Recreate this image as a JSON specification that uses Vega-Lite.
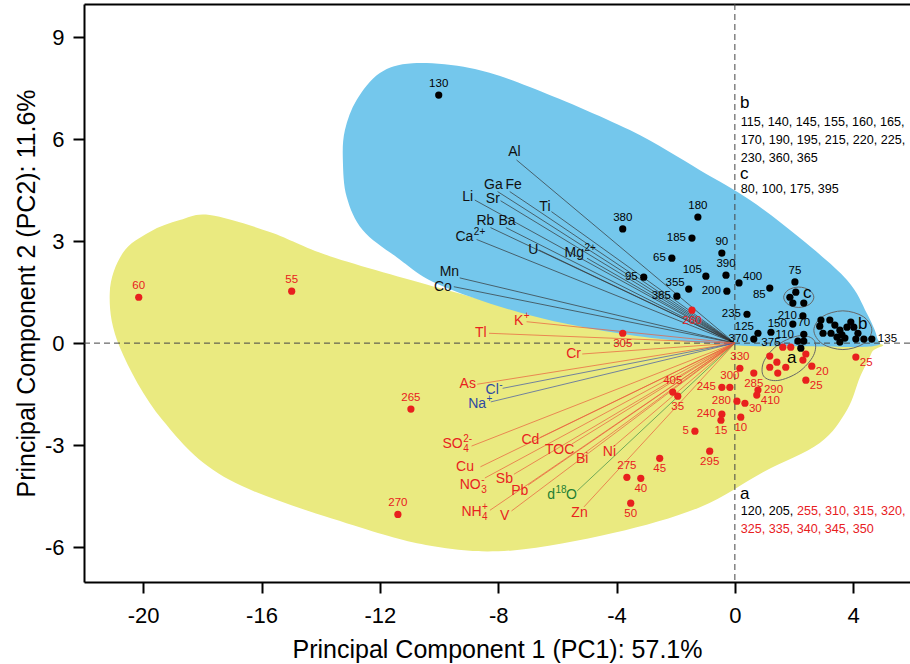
{
"$schema":"https://vega.github.io/schema/vega-lite/v6.json",
"width":826,"height":578,"autosize":"none",
"padding":{"left":84,"top":4,"right":0,"bottom":82},
"config":{"view":{"stroke":null},"font":"Liberation Sans"},
"resolve":{"scale":{"color":"independent"},"axis":{"x":"independent","y":"independent"}},
"datasets":{
"shapes":[
{"s":"Y","i":1,"x":-20.69,"y":2.65},{"s":"Y","i":2,"x":-19.78,"y":3.27},{"s":"Y","i":3,"x":-18.76,"y":3.62},{"s":"Y","i":4,"x":-17.75,"y":3.77},{"s":"Y","i":5,"x":-15.72,"y":3.27},{"s":"Y","i":6,"x":-13.69,"y":2.56},{"s":"Y","i":7,"x":-9.97,"y":1.62},{"s":"Y","i":8,"x":-6.93,"y":0.91},{"s":"Y","i":9,"x":-3.55,"y":0.38},{"s":"Y","i":10,"x":0,"y":0.15},{"s":"Y","i":11,"x":4.67,"y":0.0},{"s":"Y","i":12,"x":4.63,"y":-0.27},{"s":"Y","i":13,"x":4.23,"y":-1.0},{"s":"Y","i":14,"x":3.79,"y":-1.97},{"s":"Y","i":15,"x":2.87,"y":-2.94},{"s":"Y","i":16,"x":0.95,"y":-3.8},{"s":"Y","i":17,"x":-1.18,"y":-4.83},{"s":"Y","i":18,"x":-4.12,"y":-5.59},{"s":"Y","i":19,"x":-7.51,"y":-6.1},{"s":"Y","i":20,"x":-9.97,"y":-6.01},{"s":"Y","i":21,"x":-12.68,"y":-5.42},{"s":"Y","i":22,"x":-17.07,"y":-4.03},{"s":"Y","i":23,"x":-19.34,"y":-2.27},{"s":"Y","i":24,"x":-20.79,"y":-0.12},{"s":"Y","i":25,"x":-21.13,"y":1.47},
{"s":"B","i":1,"x":-10.89,"y":8.24},{"s":"B","i":2,"x":-8.96,"y":8.1},{"s":"B","i":3,"x":-6.93,"y":7.54},{"s":"B","i":4,"x":-3.55,"y":6.27},{"s":"B","i":5,"x":-1.18,"y":5.09},{"s":"B","i":6,"x":0.51,"y":4.21},{"s":"B","i":7,"x":2.2,"y":3.09},{"s":"B","i":8,"x":3.79,"y":1.86},{"s":"B","i":9,"x":4.46,"y":0.88},{"s":"B","i":10,"x":4.8,"y":0.18},{"s":"B","i":11,"x":4.67,"y":-0.09},{"s":"B","i":12,"x":2.2,"y":-0.09},{"s":"B","i":13,"x":0,"y":-0.06},{"s":"B","i":14,"x":-3.55,"y":0.24},{"s":"B","i":15,"x":-6.93,"y":0.82},{"s":"B","i":16,"x":-9.97,"y":1.71},{"s":"B","i":17,"x":-11.43,"y":2.53},{"s":"B","i":18,"x":-12.58,"y":3.33},{"s":"B","i":19,"x":-13.12,"y":4.3},{"s":"B","i":20,"x":-13.25,"y":5.39},{"s":"B","i":21,"x":-13.18,"y":6.27},{"s":"B","i":22,"x":-12.78,"y":7.16},{"s":"B","i":23,"x":-12.0,"y":7.95}
],
"ell":[
{"e":"c","i":1,"x":2.67,"y":1.35},{"e":"c","i":2,"x":2.52,"y":1.56},{"e":"c","i":3,"x":2.16,"y":1.65},{"e":"c","i":4,"x":1.8,"y":1.56},{"e":"c","i":5,"x":1.65,"y":1.35},{"e":"c","i":6,"x":1.8,"y":1.14},{"e":"c","i":7,"x":2.16,"y":1.05},{"e":"c","i":8,"x":2.52,"y":1.14},
{"e":"b","i":1,"x":4.63,"y":0.38},{"e":"b","i":2,"x":4.34,"y":0.78},{"e":"b","i":3,"x":3.65,"y":0.95},{"e":"b","i":4,"x":2.96,"y":0.78},{"e":"b","i":5,"x":2.67,"y":0.38},{"e":"b","i":6,"x":2.96,"y":-0.02},{"e":"b","i":7,"x":3.65,"y":-0.19},{"e":"b","i":8,"x":4.34,"y":-0.02},
{"e":"a","i":1,"x":2.68,"y":0.08},{"e":"a","i":2,"x":2.66,"y":-0.36},{"e":"a","i":3,"x":2.16,"y":-0.85},{"e":"a","i":4,"x":1.45,"y":-1.1},{"e":"a","i":5,"x":0.97,"y":-0.97},{"e":"a","i":6,"x":0.99,"y":-0.52},{"e":"a","i":7,"x":1.49,"y":-0.03},{"e":"a","i":8,"x":2.2,"y":0.22}
],
"load":[
{"v":"Al","c":"k","x":-7.38,"y":5.39},
{"v":"Fe","c":"k","x":-7.61,"y":4.46},
{"v":"Ga","c":"k","x":-8.02,"y":4.46},
{"v":"Sr","c":"k","x":-7.92,"y":4.19},
{"v":"Li","c":"k","x":-8.79,"y":4.21},
{"v":"Ti","c":"k","x":-6.2,"y":3.87},
{"v":"Rb","c":"k","x":-8.26,"y":3.4},
{"v":"Ba","c":"k","x":-7.74,"y":3.4},
{"v":"Ca2+","c":"k","x":-8.73,"y":3.05},
{"v":"U","c":"k","x":-6.62,"y":2.74},
{"v":"Mg2+","c":"k","x":-5.0,"y":2.5},
{"v":"Mn","c":"k","x":-9.3,"y":1.92},
{"v":"Co","c":"k","x":-9.5,"y":1.66},
{"v":"K+","c":"r","x":-7.04,"y":0.63},
{"v":"Tl","c":"r","x":-8.31,"y":0.29},
{"v":"Cr","c":"r","x":-5.16,"y":-0.32},
{"v":"As","c":"r","x":-8.71,"y":-1.21},
{"v":"Cl-","c":"b","x":-7.85,"y":-1.33},
{"v":"Na+","c":"b","x":-8.25,"y":-1.73},
{"v":"SO42-","c":"r","x":-8.9,"y":-3.03},
{"v":"Cd","c":"r","x":-6.59,"y":-2.78},
{"v":"Cu","c":"r","x":-8.6,"y":-3.64},
{"v":"TOC","c":"r","x":-5.51,"y":-2.97},
{"v":"NO3-","c":"r","x":-8.45,"y":-3.97},
{"v":"Sb","c":"r","x":-7.47,"y":-3.86},
{"v":"Bi","c":"r","x":-5.1,"y":-3.25},
{"v":"Ni","c":"r","x":-4.11,"y":-3.05},
{"v":"Pb","c":"r","x":-6.99,"y":-4.18},
{"v":"NH4+","c":"r","x":-8.28,"y":-4.92},
{"v":"V","c":"r","x":-7.55,"y":-4.94},
{"v":"d18O","c":"g","x":-5.33,"y":-4.35},
{"v":"Zn","c":"r","x":-5.1,"y":-4.82}
],
"labs":[
{"t":"Al","k":"p","c":"k","x":-7.45,"y":5.61},
{"t":"Fe","k":"p","c":"k","x":-7.48,"y":4.64},
{"t":"Ga","k":"p","c":"k","x":-8.16,"y":4.64},
{"t":"Sr","k":"p","c":"k","x":-8.18,"y":4.23},
{"t":"Li","k":"p","c":"k","x":-9.03,"y":4.3},
{"t":"Ti","k":"p","c":"k","x":-6.42,"y":4.0},
{"t":"Rb","k":"p","c":"k","x":-8.43,"y":3.58},
{"t":"Ba","k":"p","c":"k","x":-7.7,"y":3.58},
{"t":"Ca","k":"m","c":"k","x":-8.84,"y":3.12,"sup":"2+"},
{"t":"U","k":"p","c":"k","x":-6.81,"y":2.75},
{"t":"Mg","k":"m","c":"k","x":-5.1,"y":2.65,"sup":"2+"},
{"t":"Mn","k":"p","c":"k","x":-9.65,"y":2.08},
{"t":"Co","k":"p","c":"k","x":-9.87,"y":1.66},
{"t":"K","k":"m","c":"r","x":-7.15,"y":0.65,"sup":"+"},
{"t":"Tl","k":"p","c":"r","x":-8.59,"y":0.31},
{"t":"Cr","k":"p","c":"r","x":-5.45,"y":-0.32},
{"t":"As","k":"p","c":"r","x":-9.03,"y":-1.19},
{"t":"Cl","k":"m","c":"b","x":-7.98,"y":-1.38,"sup":"-"},
{"t":"Na","k":"m","c":"b","x":-8.41,"y":-1.78,"sup":"+"},
{"t":"SO","k":"m","c":"r","x":-9.2,"y":-2.97,"sup":"2-","sub":"4"},
{"t":"Cd","k":"p","c":"r","x":-6.91,"y":-2.84},
{"t":"Cu","k":"p","c":"r","x":-9.12,"y":-3.65},
{"t":"TOC","k":"p","c":"r","x":-5.92,"y":-3.15},
{"t":"NO","k":"m","c":"r","x":-8.59,"y":-4.18,"sup":"-","sub":"3"},
{"t":"Sb","k":"p","c":"r","x":-7.79,"y":-4.0},
{"t":"Bi","k":"p","c":"r","x":-5.16,"y":-3.42},
{"t":"Ni","k":"p","c":"r","x":-4.24,"y":-3.21},
{"t":"Pb","k":"p","c":"r","x":-7.27,"y":-4.36},
{"t":"NH","k":"m","c":"r","x":-8.56,"y":-4.98,"sup":"+","sub":"4"},
{"t":"V","k":"p","c":"r","x":-7.78,"y":-5.08},
{"t":"d","k":"m","c":"g","x":-6.08,"y":-4.48,"sup":"18"},
{"t":"O","k":"L","c":"g","x":-5.71,"y":-4.48},
{"t":"Zn","k":"p","c":"r","x":-5.25,"y":-5.01}
],
"pts":[
{"id":"130","g":"k","x":-10.01,"y":7.3,"pos":"above"},
{"id":"380","g":"k","x":-3.79,"y":3.36,"pos":"above"},
{"id":"180","g":"k","x":-1.25,"y":3.71,"pos":"above"},
{"id":"185","g":"k","x":-1.45,"y":3.09,"pos":"left"},
{"id":"90","g":"k","x":-0.44,"y":2.65,"pos":"above"},
{"id":"65","g":"k","x":-2.13,"y":2.5,"pos":"left"},
{"id":"95","g":"k","x":-3.08,"y":1.94,"pos":"left"},
{"id":"105","g":"k","x":-0.98,"y":1.97,"pos":"leftup"},
{"id":"390","g":"k","x":-0.3,"y":2.0,"pos":"above"},
{"id":"400","g":"k","x":0.14,"y":1.77,"pos":"rightup"},
{"id":"355","g":"k","x":-1.56,"y":1.59,"pos":"leftup"},
{"id":"200","g":"k","x":-0.27,"y":1.53,"pos":"left"},
{"id":"385","g":"k","x":-1.96,"y":1.38,"pos":"left"},
{"id":"235","g":"k","x":0.41,"y":0.85,"pos":"left"},
{"id":"125","g":"k","x":0.78,"y":0.29,"pos":"leftup"},
{"id":"370","g":"k","x":0.64,"y":0.12,"pos":"left"},
{"id":"375","g":"k","x":1.22,"y":0.32,"pos":"below"},
{"id":"75","g":"k","x":2.03,"y":1.8,"pos":"above"},
{"id":"85","g":"k","x":1.18,"y":1.62,"pos":"leftdown"},
{"id":"210","g":"k","x":2.3,"y":0.8,"pos":"left"},
{"id":"150","g":"k","x":1.96,"y":0.56,"pos":"left"},
{"id":"70","g":"k","x":2.33,"y":0.26,"pos":"above"},
{"id":"110","g":"k","x":2.13,"y":0.06,"pos":"leftup"},
{"id":"","g":"k","x":2.33,"y":0.06,"pos":"none"},
{"id":"","g":"k","x":2.23,"y":-0.15,"pos":"none"},
{"id":"","g":"k","x":2.06,"y":1.5,"pos":"none"},
{"id":"","g":"k","x":1.86,"y":1.35,"pos":"none"},
{"id":"","g":"k","x":1.96,"y":1.18,"pos":"none"},
{"id":"","g":"k","x":2.33,"y":1.18,"pos":"none"},
{"id":"","g":"k","x":2.91,"y":0.68,"pos":"none"},
{"id":"","g":"k","x":3.21,"y":0.68,"pos":"none"},
{"id":"","g":"k","x":2.87,"y":0.5,"pos":"none"},
{"id":"","g":"k","x":3.38,"y":0.53,"pos":"none"},
{"id":"","g":"k","x":3.92,"y":0.62,"pos":"none"},
{"id":"","g":"k","x":3.55,"y":0.38,"pos":"none"},
{"id":"","g":"k","x":3.79,"y":0.47,"pos":"none"},
{"id":"","g":"k","x":4.02,"y":0.47,"pos":"none"},
{"id":"","g":"k","x":2.98,"y":0.29,"pos":"none"},
{"id":"","g":"k","x":3.25,"y":0.29,"pos":"none"},
{"id":"","g":"k","x":3.45,"y":0.18,"pos":"none"},
{"id":"","g":"k","x":3.62,"y":0.24,"pos":"none"},
{"id":"","g":"k","x":3.72,"y":0.15,"pos":"none"},
{"id":"","g":"k","x":4.16,"y":0.29,"pos":"none"},
{"id":"","g":"k","x":3.55,"y":0.03,"pos":"none"},
{"id":"","g":"k","x":4.09,"y":0.12,"pos":"none"},
{"id":"","g":"k","x":4.36,"y":0.12,"pos":"none"},
{"id":"135","g":"k","x":4.63,"y":0.12,"pos":"right"},
{"id":"260","g":"r","x":-1.45,"y":0.97,"pos":"below"},
{"id":"305","g":"r","x":-3.79,"y":0.29,"pos":"below"},
{"id":"","g":"r","x":1.62,"y":-0.12,"pos":"none"},
{"id":"","g":"r","x":1.89,"y":-0.12,"pos":"none"},
{"id":"","g":"r","x":1.18,"y":-0.38,"pos":"none"},
{"id":"","g":"r","x":1.42,"y":-0.56,"pos":"none"},
{"id":"","g":"r","x":1.18,"y":-0.71,"pos":"none"},
{"id":"","g":"r","x":1.45,"y":-0.88,"pos":"none"},
{"id":"","g":"r","x":1.72,"y":-0.71,"pos":"none"},
{"id":"","g":"r","x":2.4,"y":-0.32,"pos":"none"},
{"id":"","g":"r","x":2.3,"y":-0.5,"pos":"none"},
{"id":"20","g":"r","x":2.6,"y":-0.68,"pos":"rightdown"},
{"id":"25","g":"r","x":4.09,"y":-0.41,"pos":"rightdown"},
{"id":"25","g":"r","x":2.4,"y":-1.09,"pos":"rightdown"},
{"id":"330","g":"r","x":0.17,"y":-0.74,"pos":"above"},
{"id":"300","g":"r","x":-0.17,"y":-1.3,"pos":"above"},
{"id":"245","g":"r","x":-0.44,"y":-1.3,"pos":"left"},
{"id":"285","g":"r","x":0.64,"y":-0.88,"pos":"below"},
{"id":"290","g":"r","x":0.78,"y":-1.38,"pos":"right"},
{"id":"410","g":"r","x":0.74,"y":-1.53,"pos":"rightdown"},
{"id":"280","g":"r","x":0.07,"y":-1.71,"pos":"left"},
{"id":"30","g":"r","x":0.34,"y":-1.77,"pos":"rightdown"},
{"id":"240","g":"r","x":-0.44,"y":-2.09,"pos":"left"},
{"id":"15","g":"r","x":-0.47,"y":-2.27,"pos":"below"},
{"id":"10","g":"r","x":0.2,"y":-2.18,"pos":"below"},
{"id":"405","g":"r","x":-2.1,"y":-1.44,"pos":"above"},
{"id":"35","g":"r","x":-1.93,"y":-1.56,"pos":"below"},
{"id":"5","g":"r","x":-1.35,"y":-2.59,"pos":"left"},
{"id":"295","g":"r","x":-0.85,"y":-3.18,"pos":"below"},
{"id":"45","g":"r","x":-2.54,"y":-3.39,"pos":"below"},
{"id":"275","g":"r","x":-3.65,"y":-3.95,"pos":"above"},
{"id":"40","g":"r","x":-3.18,"y":-3.98,"pos":"below"},
{"id":"50","g":"r","x":-3.52,"y":-4.71,"pos":"below"},
{"id":"265","g":"r","x":-10.95,"y":-1.94,"pos":"above"},
{"id":"270","g":"r","x":-11.39,"y":-5.04,"pos":"above"},
{"id":"60","g":"r","x":-20.15,"y":1.35,"pos":"above"},
{"id":"55","g":"r","x":-14.98,"y":1.53,"pos":"above"}
],
"heads":[
{"t":"b","x":0.17,"y":7.07},{"t":"c","x":0.17,"y":4.98},{"t":"a","x":0.17,"y":-4.45},
{"t":"c","x":2.3,"y":1.47},{"t":"b","x":4.16,"y":0.56},{"t":"a","x":1.76,"y":-0.44}
],
"lists":[
{"t":"115, 140, 145, 155, 160, 165,","k":"k","x":0.2,"y":6.5},
{"t":"170, 190, 195, 215, 220, 225,","k":"k","x":0.2,"y":5.98},
{"t":"230, 360, 365","k":"k","x":0.2,"y":5.46},
{"t":"80, 100, 175, 395","k":"k","x":0.2,"y":4.55},
{"t":"120, 205,","k":"k","x":0.2,"y":-4.95},
{"t":"255, 310, 315, 320,","k":"r","x":2.1,"y":-4.95},
{"t":"325, 335, 340, 345, 350","k":"r","x":0.2,"y":-5.48}
]
},
"layer":[
{"data":{"name":"shapes"},"transform":[{"filter":"datum.s==='Y'"}],
 "mark":{"type":"line","interpolate":"cardinal-closed","fill":"#EAEA80","strokeWidth":0},
 "encoding":{
  "x":{"field":"x","type":"quantitative","scale":{"domain":[-22,5.92],"nice":false,"zero":false},
   "axis":{"orient":"bottom","values":[-20,-16,-12,-8,-4,0,4],"labelExpr":"'' + datum.value","grid":false,"title":"Principal Component 1 (PC1): 57.1%","domainColor":"#000","domainWidth":2,"tickColor":"#000","tickWidth":2,"tickSize":11,"labelFontSize":22,"labelColor":"#000","labelPadding":12,"labelFont":"Liberation Sans","titleFont":"Liberation Sans","titleFontSize":25,"titleFontWeight":"normal","titleColor":"#000","titlePadding":11,"labelFlush":false,"labelOverlap":false}},
  "y":{"field":"y","type":"quantitative","scale":{"domain":[-7.03,9.98],"nice":false,"zero":false},
   "axis":{"orient":"left","values":[-6,-3,0,3,6,9],"labelExpr":"'' + datum.value","grid":false,"title":"Principal Component 2 (PC2): 11.6%","domainColor":"#000","domainWidth":2,"tickColor":"#000","tickWidth":2,"tickSize":11,"labelFontSize":22,"labelColor":"#000","labelPadding":9,"labelFont":"Liberation Sans","titleFont":"Liberation Sans","titleFontSize":25,"titleFontWeight":"normal","titleColor":"#000","titlePadding":5,"labelFlush":false,"labelOverlap":false}},
  "order":{"field":"i","type":"quantitative"}}},
{"data":{"name":"shapes"},"transform":[{"filter":"datum.s==='B'"}],
 "mark":{"type":"line","interpolate":"cardinal-closed","fill":"#74C7EC","strokeWidth":0},
 "encoding":{
  "x":{"field":"x","type":"quantitative","axis":{"orient":"top","labels":false,"ticks":false,"title":null,"grid":false,"domainColor":"#000","domainWidth":2}},
  "y":{"field":"y","type":"quantitative","axis":null},
  "order":{"field":"i","type":"quantitative"}}},
{"data":{"values":[{}]},"mark":{"type":"rule","color":"#444","strokeWidth":1,"strokeDash":[6,4]},
 "encoding":{"x":{"datum":0,"type":"quantitative","axis":null}}},
{"data":{"values":[{}]},"mark":{"type":"rule","color":"#444","strokeWidth":1,"strokeDash":[6,4]},
 "encoding":{"y":{"datum":0,"type":"quantitative","axis":null}}},
{"data":{"name":"load"},"mark":{"type":"rule","strokeWidth":0.7},
 "encoding":{"x":{"field":"x","type":"quantitative","axis":null},"y":{"field":"y","type":"quantitative","axis":null},
  "x2":{"datum":0},"y2":{"datum":0},
  "color":{"field":"c","type":"nominal","scale":{"domain":["k","r","b","g"],"range":["#333333","#EA5C3C","#3E55A8","#3C8C46"]},"legend":null}}},
{"data":{"name":"ell"},"mark":{"type":"line","interpolate":"cardinal-closed","color":"#666","strokeWidth":1},
 "encoding":{"x":{"field":"x","type":"quantitative","axis":null},"y":{"field":"y","type":"quantitative","axis":null},
  "detail":{"field":"e"},"order":{"field":"i","type":"quantitative"}}},
{"data":{"name":"labs"},
 "encoding":{"x":{"field":"x","type":"quantitative","axis":null},"y":{"field":"y","type":"quantitative","axis":null},
  "color":{"field":"c","type":"nominal","scale":{"domain":["k","r","b","g"],"range":["#111111","#E8231F","#2E4AA3","#1F7F33"]},"legend":null}},
 "layer":[
  {"transform":[{"filter":"datum.k==='p'"}],"mark":{"type":"text","fontSize":14,"align":"center","baseline":"middle"},"encoding":{"text":{"field":"t"}}},
  {"transform":[{"filter":"datum.k==='m'"}],"mark":{"type":"text","fontSize":14,"align":"right","baseline":"middle"},"encoding":{"text":{"field":"t"}}},
  {"transform":[{"filter":"datum.k==='L'"}],"mark":{"type":"text","fontSize":14,"align":"left","baseline":"middle"},"encoding":{"text":{"field":"t"}}},
  {"transform":[{"filter":"datum.sup"}],"mark":{"type":"text","fontSize":10,"align":"left","baseline":"middle","dx":0.5,"dy":-5},"encoding":{"text":{"field":"sup"}}},
  {"transform":[{"filter":"datum.sub"}],"mark":{"type":"text","fontSize":10,"align":"left","baseline":"middle","dx":0.5,"dy":5},"encoding":{"text":{"field":"sub"}}}
 ]},
{"data":{"name":"pts"},
 "encoding":{"x":{"field":"x","type":"quantitative","axis":null},"y":{"field":"y","type":"quantitative","axis":null},
  "color":{"field":"g","type":"nominal","scale":{"domain":["k","r"],"range":["#000000","#E8201E"]},"legend":null},
  "text":{"field":"id"}},
 "layer":[
  {"mark":{"type":"circle","size":52,"opacity":1}},
  {"transform":[{"filter":"datum.pos==='above'"}],"mark":{"type":"text","fontSize":11.5,"dy":-11,"baseline":"middle"}},
  {"transform":[{"filter":"datum.pos==='below'"}],"mark":{"type":"text","fontSize":11.5,"dy":11,"baseline":"middle"}},
  {"transform":[{"filter":"datum.pos==='left'"}],"mark":{"type":"text","fontSize":11.5,"dx":-6,"align":"right","baseline":"middle"}},
  {"transform":[{"filter":"datum.pos==='right'"}],"mark":{"type":"text","fontSize":11.5,"dx":6,"align":"left","baseline":"middle"}},
  {"transform":[{"filter":"datum.pos==='leftup'"}],"mark":{"type":"text","fontSize":11.5,"dx":-4,"dy":-6,"align":"right","baseline":"middle"}},
  {"transform":[{"filter":"datum.pos==='leftdown'"}],"mark":{"type":"text","fontSize":11.5,"dx":-4,"dy":7,"align":"right","baseline":"middle"}},
  {"transform":[{"filter":"datum.pos==='rightup'"}],"mark":{"type":"text","fontSize":11.5,"dx":4,"dy":-6,"align":"left","baseline":"middle"}},
  {"transform":[{"filter":"datum.pos==='rightdown'"}],"mark":{"type":"text","fontSize":11.5,"dx":4,"dy":6,"align":"left","baseline":"middle"}}
 ]},
{"data":{"name":"heads"},"mark":{"type":"text","fontSize":17,"align":"left","baseline":"middle","color":"#000"},
 "encoding":{"x":{"field":"x","type":"quantitative","axis":null},"y":{"field":"y","type":"quantitative","axis":null},"text":{"field":"t"}}},
{"data":{"name":"lists"},"mark":{"type":"text","fontSize":12.6,"align":"left","baseline":"middle"},
 "encoding":{"x":{"field":"x","type":"quantitative","axis":null},"y":{"field":"y","type":"quantitative","axis":null},"text":{"field":"t"},
  "color":{"field":"k","type":"nominal","scale":{"domain":["k","r"],"range":["#000000","#E8201E"]},"legend":null}}}
]
}
